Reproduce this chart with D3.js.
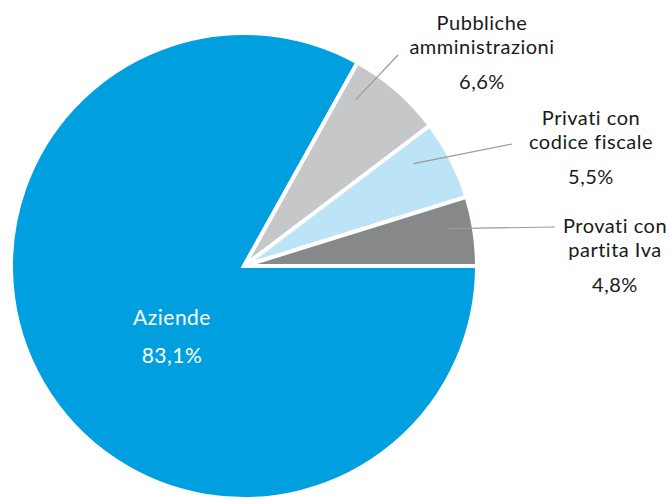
<!DOCTYPE html>
<html>
<head>
<meta charset="utf-8">
<script src="https://cdn.jsdelivr.net/npm/d3@7"></script>
<style>
  html, body { margin: 0; padding: 0; background: #fff; }
  svg { display: block; }
  text { font-family: Lato, "Open Sans", sans-serif; font-variant-ligatures: none; font-feature-settings: "liga" 0, "clig" 0; letter-spacing: 0.5px; }
</style>
</head>
<body>
<svg id="chart" width="672" height="499"></svg>
<script>
// Data (in drawing order, clockwise from 3 o'clock)
const categories = ["Aziende", "Pubbliche amministrazioni", "Privati con codice fiscale", "Provati con partita Iva"];
const values = [83.1, 6.6, 5.5, 4.8];
const labelLines = [["Aziende"], ["Pubbliche", "amministrazioni"], ["Privati con", "codice fiscale"], ["Provati con", "partita Iva"]];
const valueLabels = ["83,1%", "6,6%", "5,5%", "4,8%"];
const colors = ["#009fe0", "#c6c7c9", "#bde3f6", "#87888a"];

const W = 672, H = 499;
const cx = 244, cy = 266, R = 233;

const svg = d3.select("#chart");
const g = svg.append("g").attr("transform", `translate(${cx},${cy})`);

const pie = d3.pie().sort(null).value(d => d.v)
  .startAngle(Math.PI / 2).endAngle(Math.PI / 2 + 2 * Math.PI);
const data = pie(values.map((v, i) => ({ v, i })));
const arc = d3.arc().innerRadius(0).outerRadius(R);

g.selectAll("path.slice").data(data).join("path")
  .attr("class", "slice")
  .attr("d", arc)
  .attr("fill", d => colors[d.data.i])
  .attr("stroke", "#fff")
  .attr("stroke-width", 4)
  .attr("stroke-linejoin", "miter");

// Label anchors (page coordinates) for outside labels
const outside = [
  null,
  { x: 482, y: 30, lineEnd: [398, 55], r: 0.86, f: 0.2 },
  { x: 591, y: 125, lineEnd: [512, 144], r: 0.85, f: 0.3 },
  { x: 615, y: 233, lineEnd: [555, 227], r: 0.89, f: 0.4 }
];
const lineGap = 24;
const fs = 20;

data.forEach((d) => {
  const i = d.data.i;
  if (i === 0) {
    const t = svg.append("text").attr("text-anchor", "middle").attr("fill", "#fff")
      .attr("font-size", 21);
    t.append("tspan").attr("x", 172).attr("y", 325).text(labelLines[0][0]);
    t.append("tspan").attr("x", 172).attr("y", 363).text(valueLabels[0]);
    return;
  }
  const o = outside[i];
  const a = d.startAngle + o.f * (d.endAngle - d.startAngle);
  const sx = cx + Math.sin(a) * R * o.r;
  const sy = cy - Math.cos(a) * R * o.r;
  svg.append("line")
    .attr("x1", sx).attr("y1", sy)
    .attr("x2", o.lineEnd[0]).attr("y2", o.lineEnd[1])
    .attr("stroke", "#9a9b9d").attr("stroke-width", 1.2);
  const t = svg.append("text").attr("text-anchor", "middle").attr("fill", "#1a1a1a")
    .attr("font-size", fs);
  labelLines[i].forEach((ln, j) => {
    t.append("tspan").attr("x", o.x).attr("y", o.y + j * lineGap).text(ln);
  });
  t.append("tspan").attr("x", o.x).attr("y", o.y + (labelLines[i].length - 1) * lineGap + 35)
    .text(valueLabels[i]);
});
</script>
</body>
</html>
